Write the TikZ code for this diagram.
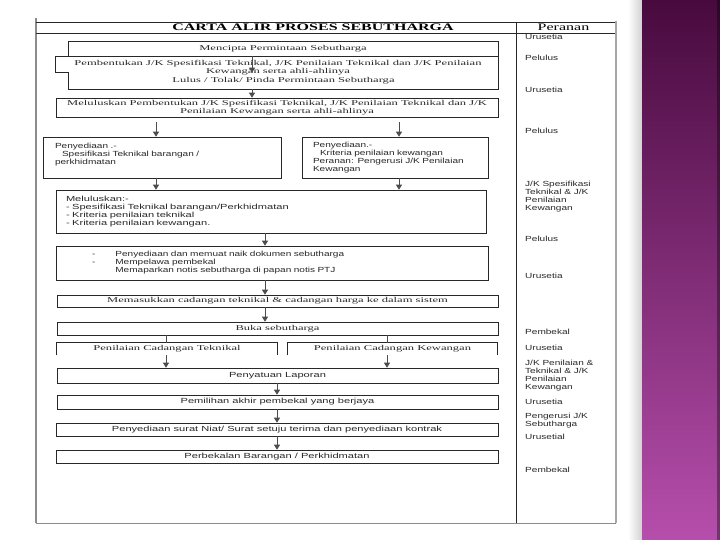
\documentclass[tikz,border=0pt]{standalone}
\usepackage{fontspec}
\setmainfont{Liberation Serif}[FakeStretch=1.7]
\newfontfamily\flowsans{Liberation Sans}[FakeStretch=1.5]
\newfontfamily\smallsans{Liberation Sans}[FakeStretch=1.36]
\newfontfamily\headserif{Liberation Serif}[FakeStretch=1.6]
\usepackage{xcolor}
\usetikzlibrary{arrows.meta,positioning,calc}
\definecolor{slideBarTop}{RGB}{72,10,62}
\definecolor{slideBarMid}{RGB}{122,42,112}
\definecolor{slideBarBottom}{RGB}{182,78,172}
\definecolor{frameGray}{RGB}{140,140,140}
\definecolor{inkGray}{RGB}{40,40,40}
\newcommand{\flowserif}{\fontsize{7.4}{8}\selectfont}
\newcommand{\flowsansfont}{\flowsans\fontsize{7.4}{8}\selectfont}
\newcommand{\smallsansfont}{\smallsans\fontsize{7.4}{8}\selectfont}
\newcommand{\headfont}{\headserif\fontsize{10}{12}\selectfont}

\begin{document}
\begin{tikzpicture}[x=1pt,y=-1pt,
    flowbox/.style={draw=inkGray, line width=0.6pt, rectangle, inner sep=0pt, text=inkGray, font=\flowserif},
    openbox/.style={flowbox, draw=none},
    sansbox/.style={flowbox, font=\flowsansfont},
    smallbox/.style={flowbox, font=\smallsansfont},
    boxedge/.style={draw=inkGray, line width=0.6pt},
    flowarrow/.style={-{Triangle[width=6pt,length=5pt]}, draw=black!70, line width=0.8pt},
    flowline/.style={draw=black!70, line width=0.8pt},
    rolenode/.style={anchor=north west, align=left, inner sep=0pt, font=\smallsansfont, text=inkGray}]
    \useasboundingbox (0,0) rectangle (720,540);
    \fill[white] (0,0) rectangle (720,540);

    \shade[left color=white, right color=black!18] (628,0) rectangle (642,540);
    \shade[top color=slideBarTop, middle color=slideBarMid, bottom color=slideBarBottom] (642,0) rectangle (720,540);
    \fill[black, opacity=0.35] (717,0) rectangle (720,540);

    \draw[frameGray, line width=1.5pt] (36,18) -- (36,523);
    \draw[inkGray, line width=0.7pt] (36,22) -- (616,22);
    \draw[inkGray, line width=0.7pt] (36,33) -- (616,33);
    \draw[inkGray, line width=0.7pt] (516,22) -- (516,523);
    \draw[black!35, line width=2pt] (616,21) -- (616,523);
    \draw[frameGray, line width=1pt] (36,523) -- (616,523);

    \node[text=black, font=\headfont\bfseries] (carta) at (313,27.5) {CARTA ALIR PROSES SEBUTHARGA};
    \node[text=black, font=\headfont] (peranan) at (563.5,27.5) {Peranan};

    \coordinate (spine) at (252,0);
    \coordinate (midline) at (265,0);
    \coordinate (lowline) at (277,0);
    \coordinate (leftline) at (156,0);
    \coordinate (rightline) at (399,0);
    \coordinate (splitL) at (166,0);
    \coordinate (splitR) at (387,0);

    \node[flowbox, minimum width=430pt, minimum height=15pt] (mencipta) at (283,48.5) {Mencipta Permintaan Sebutharga};
    \node[openbox, align=center] (pembentukan) at (278,67.5) {Pembentukan J/K Spesifikasi Teknikal, J/K Penilaian Teknikal dan J/K Penilaian\\Kewangan serta ahli-ahlinya};
    \node[openbox, minimum width=429pt, minimum height=16pt] (lulus) at (283.5,81) {\raisebox{-1pt}{Lulus / Tolak/ Pinda Permintaan Sebutharga}};
    \draw[boxedge] (lulus.north west) -- ++(-13,0) |- (mencipta.south west);
    \draw[boxedge] (lulus.north west) |- (lulus.south east) -- (mencipta.south east);
    \node[flowbox, minimum width=442pt, minimum height=19pt, align=center] (meluluskan) at (277,107.5) {Meluluskan Pembentukan J/K Spesifikasi Teknikal, J/K Penilaian Teknikal dan J/K\\Penilaian Kewangan serta ahli-ahlinya};

    \node[smallbox, minimum width=238pt, minimum height=41pt, inner xsep=12pt, text width=214pt, align=left] (spek) at (162,157.5) {Penyediaan .-\\\hspace*{7pt}Spesifikasi Teknikal barangan /\\perkhidmatan\\\mbox{}};
    \node[smallbox, minimum width=186pt, minimum height=41pt, inner xsep=11pt, text width=164pt, align=left] (kriteria) at (395,157.5) {Penyediaan.-\\\hspace*{7pt}Kriteria penilaian kewangan\\Peranan: Pengerusi J/K Penilaian\\Kewangan};

    \node[sansbox, minimum width=430pt, minimum height=43pt, inner xsep=10pt, text width=410pt, align=left] (luluskan) at (271,211.5) {Meluluskan:-\\- Spesifikasi Teknikal barangan/Perkhidmatan\\- Kriteria penilaian teknikal\\- Kriteria penilaian kewangan.};
    \node[smallbox, minimum width=432pt, minimum height=34pt, inner xsep=10pt, text width=412pt, align=left] (dokumen) at (272,263) {\begin{tabular}{@{\hspace{26pt}}l@{\hspace{20pt}}l@{}}
        - & Penyediaan dan memuat naik dokumen sebutharga\\
        - & Mempelawa pembekal\\
          & Memaparkan notis sebutharga di papan notis PTJ
    \end{tabular}};

    \node[flowbox, minimum width=441pt, minimum height=12pt] (sistem) at (277.5,301) {Memasukkan cadangan teknikal \& cadangan harga ke dalam sistem};
    \node[flowbox, minimum width=441pt, minimum height=13pt] (buka) at (277.5,328.5) {Buka sebutharga};
    \node[openbox, minimum width=220pt, minimum height=12pt] (teknikal) at (167,349) {Penilaian Cadangan Teknikal};
    \node[openbox, minimum width=209pt, minimum height=12pt] (kewangan) at (392.5,349) {Penilaian Cadangan Kewangan};
    \draw[boxedge] (teknikal.south west) |- (teknikal.north east) -- (teknikal.south east);
    \draw[boxedge] (kewangan.south west) |- (kewangan.north east) -- (kewangan.south east);
    \node[sansbox, minimum width=441pt, minimum height=15pt] (penyatuan) at (277.5,375.5) {Penyatuan Laporan};
    \node[sansbox, minimum width=441pt, minimum height=14pt] (pemilihan) at (277.5,402) {Pemilihan akhir pembekal yang berjaya};
    \node[sansbox, minimum width=442pt, minimum height=13pt] (surat) at (277,429.5) {Penyediaan surat Niat/ Surat setuju terima dan penyediaan kontrak};
    \node[sansbox, minimum width=442pt, minimum height=13pt] (perbekalan) at (277,456.5) {Perbekalan Barangan / Perkhidmatan};

    \draw[flowarrow] (mencipta.south -| spine) -- (lulus.north -| spine);
    \draw[flowarrow] (lulus.south -| spine) -- (meluluskan.north -| spine);
    \draw[flowarrow, shorten <=5pt] (meluluskan.south -| leftline) -- (spek.north -| leftline);
    \draw[flowarrow, shorten <=5pt] (meluluskan.south -| rightline) -- (kriteria.north -| rightline);
    \draw[flowarrow] (spek.south -| leftline) -- (luluskan.north -| leftline);
    \draw[flowarrow] (kriteria.south -| rightline) -- (luluskan.north -| rightline);
    \draw[flowarrow] (luluskan.south -| midline) -- (dokumen.north -| midline);
    \draw[flowarrow] (dokumen.south -| midline) -- (sistem.north -| midline);
    \draw[flowarrow] (sistem.south -| midline) -- (buka.north -| midline);
    \draw[flowline] (buka.south -| splitL) -- (teknikal.north -| splitL);
    \draw[flowline] (buka.south -| splitR) -- (kewangan.north -| splitR);
    \draw[flowarrow] (teknikal.south -| splitL) -- (penyatuan.north -| splitL);
    \draw[flowarrow] (kewangan.south -| splitR) -- (penyatuan.north -| splitR);
    \draw[flowarrow] (penyatuan.south -| lowline) -- (pemilihan.north -| lowline);
    \draw[flowarrow] (pemilihan.south -| lowline) -- (surat.north -| lowline);
    \draw[flowarrow] (surat.south -| lowline) -- (perbekalan.north -| lowline);

    \node[rolenode] (role1) at (525,34) {Urusetia};
    \node[rolenode] (role2) at (525,55) {Pelulus};
    \node[rolenode] (role3) at (525,87) {Urusetia};
    \node[rolenode] (role4) at (525,128) {Pelulus};
    \node[rolenode] (role5) at (525,181) {J/K Spesifikasi\\Teknikal \& J/K\\Penilaian\\Kewangan};
    \node[rolenode] (role6) at (525,236) {Pelulus};
    \node[rolenode] (role7) at (525,273) {Urusetia};
    \node[rolenode] (role8) at (525,329) {Pembekal};
    \node[rolenode] (role9) at (525,345) {Urusetia};
    \node[rolenode] (role10) at (525,360) {J/K Penilaian \&\\Teknikal \& J/K\\Penilaian\\Kewangan};
    \node[rolenode] (role11) at (525,399) {Urusetia};
    \node[rolenode] (role12) at (525,413) {Pengerusi J/K\\Sebutharga};
    \node[rolenode] (role13) at (525,434) {Urusetial};
    \node[rolenode] (role14) at (525,467) {Pembekal};
\end{tikzpicture}
\end{document}
